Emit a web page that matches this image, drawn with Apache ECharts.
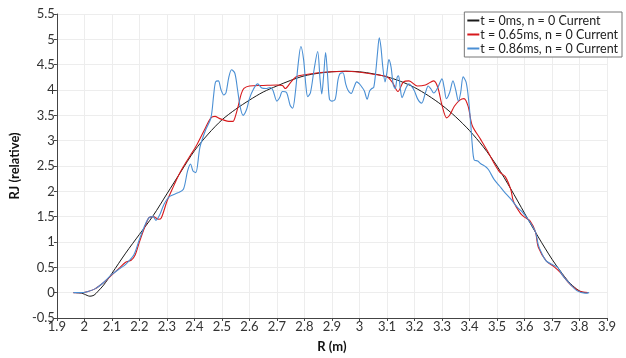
<!DOCTYPE html>
<html>
<head>
<meta charset="utf-8">
<script src="https://cdn.jsdelivr.net/npm/echarts@6/dist/echarts.min.js"></script>
<style>html,body{margin:0;padding:0;background:#fff}#c{width:626px;height:358px}</style>
</head>
<body>
<div id="c"></div>
<script>
// ---- data ----
const seriesNames = ["t = 0ms, n = 0 Current", "t = 0.65ms, n = 0 Current", "t = 0.86ms, n = 0 Current"];

const blackR = [1.97,1.99,2.0,2.02,2.035,2.05,2.07,2.1,2.15,2.2,2.25,2.3,2.35,2.4,2.45,2.5,2.55,2.6,2.65,2.7,2.75,2.8,2.85,2.9,2.95,3.0,3.05,3.1,3.15,3.2,3.25,3.3,3.35,3.4,3.45,3.5,3.55,3.6,3.65,3.7,3.73,3.76,3.79,3.81,3.83];
const blackJ = [0,-0.01,-0.03,-0.07,-0.05,0.03,0.15,0.38,0.78,1.15,1.52,1.95,2.38,2.8,3.13,3.41,3.62,3.8,3.96,4.08,4.19,4.28,4.33,4.36,4.37,4.36,4.32,4.26,4.17,4.05,3.89,3.7,3.47,3.2,2.88,2.5,2.05,1.57,1.1,0.66,0.43,0.22,0.07,0.01,0];

const redR = [1.96,1.99,2.01,2.04,2.07,2.1,2.13,2.15,2.17,2.185,2.2,2.22,2.235,2.25,2.27,2.28,2.3,2.32,2.34,2.36,2.39,2.41,2.44,2.46,2.475,2.49,2.505,2.525,2.54,2.55,2.56,2.57,2.58,2.6,2.65,2.7,2.72,2.73,2.75,2.77,2.8,2.85,2.9,2.95,3.0,3.05,3.1,3.12,3.14,3.16,3.18,3.21,3.24,3.27,3.285,3.3,3.317,3.33,3.345,3.365,3.38,3.395,3.41,3.44,3.465,3.49,3.51,3.53,3.55,3.56,3.586,3.6,3.62,3.64,3.65,3.68,3.706,3.73,3.76,3.78,3.8,3.83];
const redJ = [0,0,0.02,0.08,0.2,0.35,0.5,0.6,0.64,0.75,1.0,1.3,1.48,1.5,1.45,1.48,1.8,2.05,2.29,2.49,2.75,2.93,3.25,3.45,3.48,3.44,3.41,3.38,3.38,3.5,3.7,3.92,4.03,4.08,4.09,4.1,4.09,4.03,4.15,4.26,4.3,4.34,4.36,4.37,4.35,4.31,4.26,4.15,3.97,4.16,4.18,4.08,4.1,4.18,4.05,3.7,3.45,3.52,3.68,3.8,3.83,3.68,3.3,3.03,2.8,2.55,2.38,2.29,2.04,1.8,1.56,1.49,1.42,1.2,0.9,0.62,0.52,0.4,0.2,0.1,0.03,0];

const blueR = [1.96,1.99,2.01,2.04,2.07,2.1,2.13,2.15,2.18,2.2,2.22,2.235,2.25,2.26,2.275,2.29,2.31,2.34,2.36,2.375,2.386,2.395,2.405,2.42,2.44,2.46,2.47,2.477,2.487,2.497,2.507,2.515,2.525,2.535,2.547,2.557,2.567,2.577,2.59,2.6,2.615,2.63,2.645,2.66,2.675,2.685,2.7,2.71,2.72,2.735,2.748,2.757,2.767,2.777,2.787,2.797,2.805,2.812,2.822,2.835,2.848,2.857,2.863,2.87,2.877,2.884,2.891,2.9,2.912,2.922,2.93,2.94,2.95,2.958,2.97,2.98,2.99,3.0,3.01,3.018,3.028,3.037,3.045,3.052,3.06,3.066,3.072,3.078,3.085,3.093,3.1,3.107,3.115,3.123,3.13,3.137,3.142,3.148,3.155,3.163,3.17,3.18,3.19,3.2,3.212,3.226,3.24,3.25,3.26,3.27,3.285,3.3,3.308,3.316,3.328,3.34,3.35,3.36,3.368,3.377,3.388,3.397,3.405,3.41,3.417,3.43,3.44,3.46,3.47,3.49,3.51,3.525,3.55,3.575,3.594,3.62,3.64,3.65,3.66,3.68,3.72,3.74,3.766,3.79,3.82,3.835];
const blueJ = [0,0,0.02,0.08,0.2,0.36,0.48,0.56,0.75,1.05,1.33,1.48,1.5,1.43,1.55,1.75,1.9,1.97,2.04,2.4,2.54,2.4,2.37,2.87,3.2,3.45,3.9,4.16,4.18,4.0,3.9,3.95,4.25,4.4,4.33,4.0,3.65,3.5,3.62,3.83,4.02,4.12,4.04,4.03,4.05,4.0,3.78,3.85,3.97,3.95,3.7,3.64,3.95,4.5,4.86,4.6,4.1,3.87,3.95,4.4,4.76,4.2,3.92,4.3,4.74,4.3,3.82,3.78,3.82,4.2,4.33,4.34,4.12,4.0,3.93,4.05,4.16,4.12,4.05,3.98,3.82,3.98,4.03,4.05,4.4,4.75,5.03,4.85,4.45,4.16,4.35,4.6,4.45,4.1,4.03,4.25,4.28,4.05,3.85,3.95,4.05,4.12,4.07,3.98,3.82,3.74,3.95,4.08,4.02,3.94,4.05,4.22,4.05,3.83,3.95,4.18,4.0,3.78,3.95,4.26,4.15,3.8,3.3,2.93,2.62,2.6,2.55,2.48,2.42,2.23,2.1,2.0,1.85,1.68,1.58,1.39,1.2,0.95,0.81,0.62,0.5,0.33,0.17,0.04,-0.01,0];

const xTicksMin = 1.9, xTicksMax = 3.9, xTickStep = 0.1;
const yTicksMin = -0.5, yTicksMax = 5.5, yTickStep = 0.5;

const colors = ["#1a1a1a", "#d7191c", "#4a8fd4"];

function pairs(xs, ys) { return xs.map((x, i) => [x, ys[i]]); }
function fmt(v) { return String(Math.round(v * 10) / 10); }

const FONT = "Lato, 'DejaVu Sans', sans-serif";
const chart = echarts.init(document.getElementById('c'), null, { renderer: 'canvas' });
chart.setOption({
  animation: false,
  backgroundColor: '#ffffff',
  grid: { left: 52, right: 19, top: 14, bottom: 33 },
  legend: {
    right: 4, top: 12,
    orient: 'vertical',
    backgroundColor: '#fff',
    borderColor: '#777', borderWidth: 1,
    padding: [2, 4, 2, 3],
    itemGap: 1,
    itemWidth: 12, itemHeight: 2,
    icon: 'rect',
    textStyle: { fontFamily: FONT, fontSize: 12.5, color: '#222', padding: [0, 0, 0, -4] },
    data: seriesNames
  },
  xAxis: {
    type: 'value', min: xTicksMin, max: xTicksMax, interval: xTickStep,
    name: 'R (m)', nameLocation: 'middle', nameGap: 22,
    nameTextStyle: { fontFamily: FONT, fontSize: 13, fontWeight: 'bold', color: '#111' },
    axisLine: { onZero: false, lineStyle: { color: '#444', width: 1 } },
    axisTick: { show: true, length: 3, lineStyle: { color: '#444' } },
    axisLabel: { formatter: fmt, fontFamily: FONT, fontSize: 13, color: '#333', margin: 2 },
    splitLine: { show: true, lineStyle: { color: '#ededed', width: 1 } }
  },
  yAxis: {
    type: 'value', min: yTicksMin, max: yTicksMax, interval: yTickStep,
    name: 'RJ (relative)', nameLocation: 'middle', nameGap: 34,
    nameTextStyle: { fontFamily: FONT, fontSize: 13, fontWeight: 'bold', color: '#111' },
    axisLine: { show: true, lineStyle: { color: '#444', width: 1 } },
    axisTick: { show: true, length: 3, lineStyle: { color: '#444' } },
    axisLabel: { formatter: fmt, fontFamily: FONT, fontSize: 13, color: '#333', margin: 2 },
    splitLine: { show: true, lineStyle: { color: '#ededed', width: 1 } }
  },
  series: [
    { name: seriesNames[0], type: 'line', data: pairs(blackR, blackJ), smooth: 0.3, showSymbol: false, color: colors[0], lineStyle: { width: 1 } },
    { name: seriesNames[1], type: 'line', data: pairs(redR, redJ), smooth: 0.3, showSymbol: false, color: colors[1], lineStyle: { width: 1.1 } },
    { name: seriesNames[2], type: 'line', data: pairs(blueR, blueJ), smooth: 0.3, showSymbol: false, color: colors[2], lineStyle: { width: 1.1 } }
  ]
});
</script>
</body>
</html>
